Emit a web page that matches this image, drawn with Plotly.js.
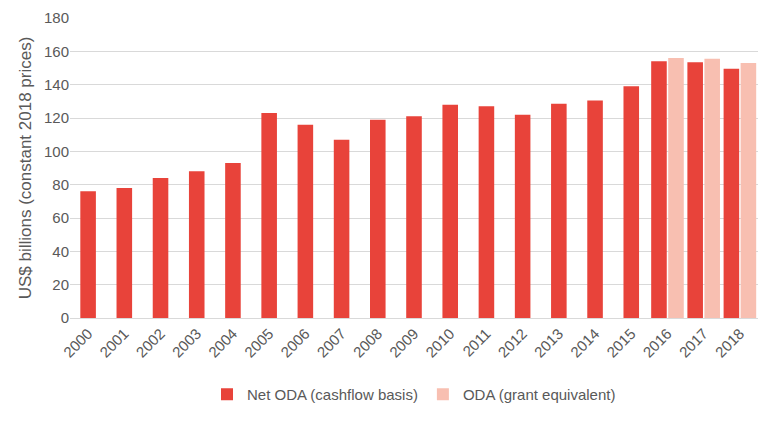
<!DOCTYPE html>
<html>
<head>
<meta charset="utf-8">
<script src="https://cdn.plot.ly/plotly-3.0.1.min.js"></script>
<style>body{margin:0}#chart{width:768px;height:421px}</style>
</head>
<body>
<div id="chart"></div>
<script>
const years = ['2000','2001','2002','2003','2004','2005','2006','2007','2008','2009',
  '2010','2011','2012','2013','2014','2015','2016','2017','2018'];
const netOda = [76, 78, 84, 88, 93, 123, 116, 107, 119, 121, 128, 127, 122, 128.5, 130.5, 139, 154, 153.5, 149.5];
const grantYears = ['2016','2017','2018'];
const grantOda = [156, 155.5, 153];

const W = 0.43;
const netOffset = years.map(y => grantYears.includes(y) ? -0.45 : -W / 2);

const traces = [
  {
    x: years, y: netOda, type: 'bar', name: 'Net ODA (cashflow basis)',
    marker: { color: '#e8433a' }, width: W, offset: netOffset,
    hoverinfo: 'x+y'
  },
  {
    x: grantYears, y: grantOda, type: 'bar', name: 'ODA (grant equivalent)',
    marker: { color: '#f8bfb1' }, width: W, offset: 0.02,
    hoverinfo: 'x+y'
  }
];

const layout = {
  width: 768, height: 421,
  barmode: 'overlay',
  font: { family: 'Liberation Sans, Arial, sans-serif', size: 15, color: '#595959' },
  paper_bgcolor: '#fff', plot_bgcolor: '#fff',
  margin: { t: 18, r: 10, b: 103, l: 70 },
  xaxis: {
    type: 'category', tickangle: -45, showgrid: false,
    showline: true, linecolor: '#d9d9d9', ticks: ''
  },
  yaxis: {
    title: { text: 'US$ billions (constant 2018 prices)', font: { size: 17 }, standoff: 8 },
    range: [0, 180], dtick: 20, gridcolor: '#d9d9d9', zeroline: false, ticks: ''
  },
  showlegend: true,
  legend: { orientation: 'h', x: 0.5, xanchor: 'center', y: -0.2, yanchor: 'top', font: { size: 15 } }
};

Plotly.newPlot('chart', traces, layout, { displayModeBar: false });
</script>
</body>
</html>
